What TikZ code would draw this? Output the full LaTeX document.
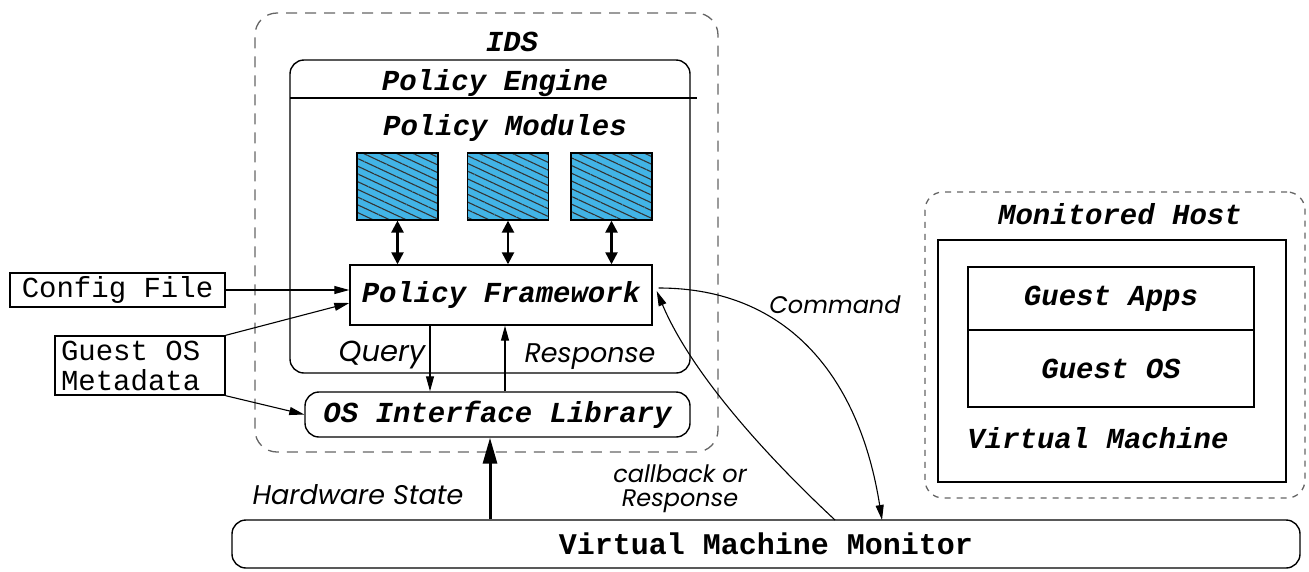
\documentclass[tikz,border=0pt]{standalone}
\usepackage{fontspec}
\setmonofont{Liberation Mono}
\newfontfamily\lblfont{Poppins}
\usetikzlibrary{arrows.meta,patterns.meta}

\definecolor{modblue}{RGB}{66,180,230}

\tikzset{
  box/.style={draw, line width=1.4pt, inner sep=0pt, align=center},
  rbox/.style={box, rounded corners=14pt},
  frame/.style={draw=black!60, dash pattern=on 11pt off 8pt, line width=1.3pt, rounded corners=22pt, inner sep=0pt},
  module/.style={draw, line width=1.3pt, minimum width=81pt, minimum height=67pt,
    preaction={fill=modblue}, pattern={Lines[angle=-25,distance=7pt,line width=1.1pt]}, pattern color=black!80},
  both/.style={{Triangle[length=12pt,width=12pt]}-{Triangle[length=12pt,width=12pt]}, line width=2.4pt},
  flow/.style={-{Triangle[length=15pt,width=8pt]}, line width=1.1pt},
  ttbi/.style={font=\fontsize{29}{32}\selectfont\ttfamily\bfseries\itshape},
  ttb/.style={font=\fontsize{30}{32}\selectfont\ttfamily\bfseries},
  tt/.style={font=\fontsize{29}{30}\selectfont\ttfamily},
  lbl/.style={font=\fontsize{27}{28}\selectfont\lblfont\itshape, align=center}
}

\begin{document}
\begin{tikzpicture}[x=1pt,y=-1pt]
\useasboundingbox (0,0) rectangle (1309,571);

% IDS side
\node[frame, minimum width=463pt, minimum height=439pt] (ids) at (486.5,232.5) {};
\node[ttbi] (idslbl) at (512,42) {IDS};
\node[rbox, minimum width=400pt, minimum height=313pt] (eng) at (490,216.5) {};
\draw[line width=1.2pt] (290,98) -- (697,98);
\node[ttbi] (englbl) at (495,83) {Policy Engine};
\node[ttbi] (modlbl) at (505,128) {Policy Modules};

% modules
\node[module] (m1) at (397.5,186.5) {};
\node[module] (m2) at (508,186.5) {};
\node[module] (m3) at (611.5,186.5) {};

\node[box, ttbi, minimum width=302pt, minimum height=60pt] (pf) at (501,295) {Policy Framework};
\node[rbox, ttbi, minimum width=385pt, minimum height=45pt] (osl) at (497.5,414.5) {OS Interface Library};

\foreach \m in {m1,m2,m3}
  \draw[both] (\m.south) -- (\m.south |- pf.north);

\draw[flow] ([xshift=-71pt]pf.south) -- ([xshift=-71pt]pf.south |- osl.north);
\draw[flow] ([xshift=4pt]pf.south |- osl.north) -- ([xshift=4pt]pf.south);
\node[lbl, font=\fontsize{29}{30}\selectfont\lblfont\itshape] (qlbl) at (382,355) {Query};
\node[lbl] (rlbl) at (590,357) {Response};

% inputs on the left
\node[box, tt, minimum width=215pt, minimum height=34pt] (cfg) at (117.5,290) {Config File};
\node[box, tt, minimum height=59pt, text width=158pt, inner xsep=6pt, align=left] (meta) at (140,365.5) {Guest\hspace{0.6em}OS\\Metadata};
\draw[flow] (cfg.east) -- (cfg.east -| pf.west);
\draw[flow] (meta.north east) -- ([yshift=-8pt]pf.west);
\draw[flow] (meta.south east) -- (osl.west);

% monitor
\node[rbox, ttb, minimum width=1068pt, minimum height=48pt] (vmm) at (766,544) {Virtual Machine Monitor};
\draw[-{Triangle[length=26pt,width=14pt]}, line width=3pt] (vmm.north -| 490,0) -- (osl.south -| 490,0);
\node[lbl] (hwlbl) at (358,495) {Hardware State};

\coordinate (cmdend) at (882,520);
\coordinate (cbstart) at (835,520);
\draw[flow] ([shift={(6pt,7pt)}]pf.east) .. controls (790,288) and (860,380) .. (cmdend);
\draw[flow] (cbstart) .. controls (760,450) and (690,370) .. ([shift={(4pt,4pt)}]pf.east);
\node[lbl, font=\fontsize{24}{26}\selectfont\lblfont\itshape] (cmdlbl) at (835,305) {Command};
\node[lbl, font=\fontsize{24}{24}\selectfont\lblfont\itshape] (cblbl) at (680,489) {callback or\\Response};

% monitored host
\node[frame, dash pattern=on 6pt off 6pt, rounded corners=18pt, minimum width=380pt, minimum height=306pt] (host) at (1115,345) {};
\node[ttbi] (hostlbl) at (1120,214) {Monitored Host};
\node[box, minimum width=348pt, minimum height=242pt] (vm) at (1112,361) {};
\node[box, ttbi, minimum width=286pt, minimum height=63pt] (apps) at (1111,298.5) {Guest Apps};
\node[box, ttbi, minimum width=286pt, minimum height=77pt] (gos) at (1111,368.5) {Guest OS};
\node[ttbi] (vmlbl) at (1098,438) {Virtual Machine};
\end{tikzpicture}
\end{document}
